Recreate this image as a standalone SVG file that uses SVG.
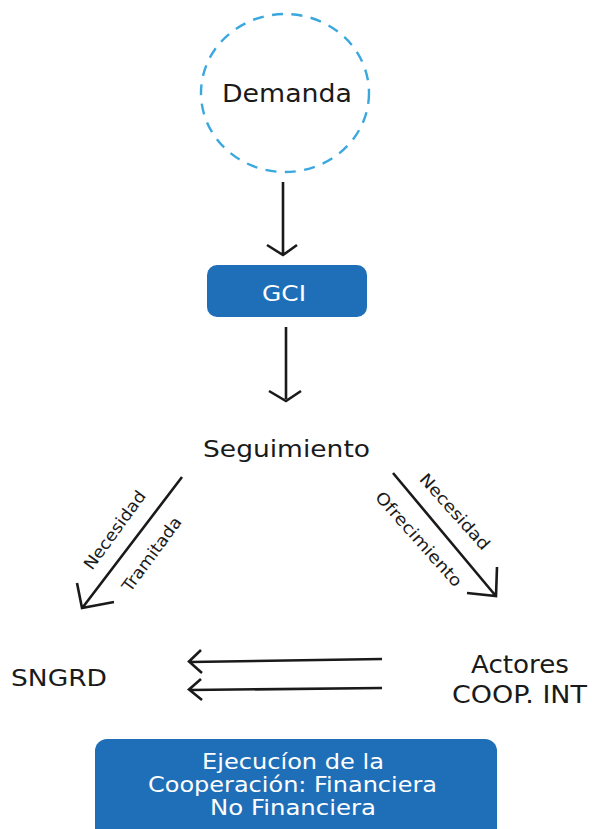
<svg xmlns="http://www.w3.org/2000/svg" width="592" height="829" viewBox="0 0 592 829">
<style>
.t{font-family:"DejaVu Sans","Noto Sans",sans-serif;fill:#1a1a1a;}
.w{font-family:"DejaVu Sans","Noto Sans",sans-serif;fill:#ffffff;}
.c{fill:none;stroke:#1a1a1a;stroke-width:2.6;stroke-linecap:butt;stroke-linejoin:miter;}
.box{fill:#1f6fb8;}
</style>
<rect width="592" height="829" fill="#ffffff"/>
<g id="demanda">
<ellipse cx="285" cy="93" rx="84" ry="79" fill="none" stroke="#3aa7df" stroke-width="2.4" stroke-dasharray="11 8.5"/>
<text class="t" x="287" y="101.5" font-size="24" text-anchor="middle" textLength="130" lengthAdjust="spacingAndGlyphs">Demanda</text>
</g>
<g id="gci">
<rect class="box" x="207" y="265" width="160" height="52" rx="10"/>
<text class="w" x="284" y="301" font-size="22" text-anchor="middle" textLength="44" lengthAdjust="spacingAndGlyphs">GCI</text>
</g>
<g id="seguimiento">
<text class="t" x="286.5" y="457" font-size="22.5" text-anchor="middle" textLength="167" lengthAdjust="spacingAndGlyphs">Seguimiento</text>
</g>
<g id="sngrd">
<text class="t" x="59" y="686" font-size="23" text-anchor="middle" textLength="96" lengthAdjust="spacingAndGlyphs">SNGRD</text>
</g>
<g id="actores">
<text class="t" x="520" y="673" font-size="24" text-anchor="middle" textLength="98" lengthAdjust="spacingAndGlyphs">Actores</text>
<text class="t" x="519.5" y="703" font-size="24" text-anchor="middle" textLength="135" lengthAdjust="spacingAndGlyphs">COOP. INT</text>
</g>
<g id="ejecucion">
<rect class="box" x="95" y="739" width="402" height="110" rx="12"/>
<text class="w" x="293" y="769" font-size="21" text-anchor="middle" textLength="182" lengthAdjust="spacingAndGlyphs">Ejecucíon de la</text>
<text class="w" x="292.5" y="792" font-size="21" text-anchor="middle" textLength="289" lengthAdjust="spacingAndGlyphs">Cooperación: Financiera</text>
<text class="w" x="293" y="815" font-size="21" text-anchor="middle" textLength="166" lengthAdjust="spacingAndGlyphs">No Financiera</text>
</g>
<g id="connectors">
<path class="c" d="M283 182 V254 M267 245 L283 255 L297 245"/>
<path class="c" d="M286 327 V399 M269 391 L286 401 L301 391"/>
<path class="c" d="M182 477 L83 607 M77 583 L82 608 L114 602"/>
<path class="c" d="M393 473 L495 595 M497 567 L496 596 L467 593"/>
<path class="c" d="M382 659 L190 662 M201 650 L189 661.5 L202 673"/>
<path class="c" d="M382 688 L190 690 M201 679 L189 689.5 L202 700"/>
<text class="t" font-size="16.5" text-anchor="middle" transform="translate(114.5 530) rotate(-54)" dy="0.36em" textLength="93" lengthAdjust="spacingAndGlyphs">Necesidad</text>
<text class="t" font-size="16.5" text-anchor="middle" transform="translate(151.5 554) rotate(-53.6)" dy="0.36em" textLength="88" lengthAdjust="spacingAndGlyphs">Tramitada</text>
<text class="t" font-size="16.5" text-anchor="middle" transform="translate(455 511.5) rotate(48)" dy="0.36em" textLength="96" lengthAdjust="spacingAndGlyphs">Necesidad</text>
<text class="t" font-size="16.5" text-anchor="middle" transform="translate(419 539) rotate(48.3)" dy="0.36em" textLength="121" lengthAdjust="spacingAndGlyphs">Ofrecimiento</text>
</g>
</svg>
